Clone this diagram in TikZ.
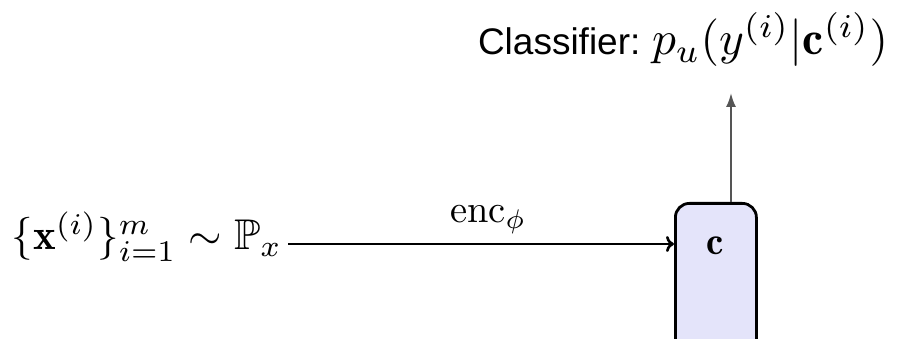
\documentclass[tikz,border=0pt]{standalone}
\usepackage{amsmath,amssymb}
\usepackage{graphicx}
\usepackage{fontspec}
\newfontfamily\labelsans{Liberation Sans}
\usetikzlibrary{arrows.meta}

\definecolor{boxfill}{RGB}{228,228,250}
\definecolor{arrowgray}{RGB}{85,85,85}

\begin{document}
\begin{tikzpicture}[x=1pt,y=-1pt,
  txt/.style={inner sep=0pt, outer sep=0pt},
  encbox/.style={draw=black, line width=2.8pt, fill=boxfill, rounded corners=14pt,
                 minimum width=81pt, minimum height=200pt, inner sep=0pt},
  flow/.style={draw=black, line width=2.6pt, -{To[length=8pt,width=16pt]}},
  up/.style={draw=arrowgray, line width=2pt, -{Latex[length=14pt,width=10pt]}}]
\useasboundingbox (0,0) rectangle (898,339);
\clip (0,0) rectangle (898,339);

% latent code block (continues below the frame)
\node[encbox, anchor=north west] (box) at (674,202) {};
\node[txt] (c) at (715,246) {\scalebox{3.9}{$\mathbf{c}$}};

% data source
\node[txt, anchor=base west] (src) at (12,250)
  {\resizebox{270pt}{!}{$\{\mathbf{x}^{(i)}\}_{i=1}^{m}\sim\mathbb{P}_x$}};

% encoder label
\node[txt, anchor=base west] (enc) at (450,223)
  {\resizebox{76pt}{!}{$\mathrm{enc}_\phi$}};

% classifier head
\node[txt, anchor=base west] (cls) at (478,55)
  {\labelsans\fontsize{37}{40}\selectfont Classifier:};
\node[txt, anchor=base west] (pu) at (652,55)
  {\resizebox{236pt}{!}{$p_u(y^{(i)}|\mathbf{c}^{(i)})$}};

% connectors
\coordinate (cin) at (674,244);
\coordinate (ctip) at (731,93);
\draw[flow] ([xshift=6pt]src.east |- cin) -- (cin);
\draw[up] (box.north -| ctip) -- (ctip);
\end{tikzpicture}
\end{document}
